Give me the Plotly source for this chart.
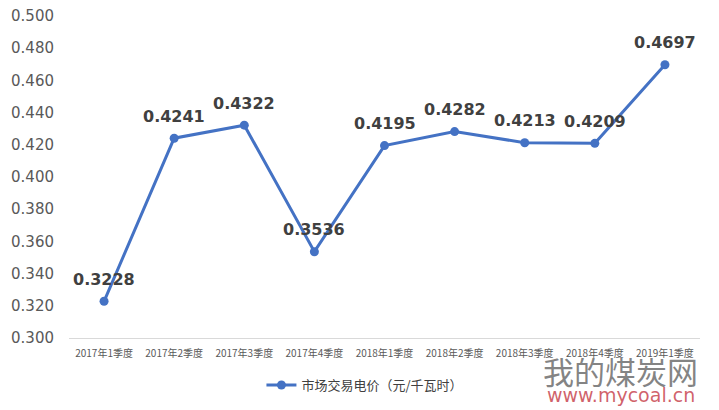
import plotly.graph_objects as go

categories = ["2017年1季度", "2017年2季度", "2017年3季度", "2017年4季度",
              "2018年1季度", "2018年2季度", "2018年3季度", "2018年4季度", "2019年1季度"]
values = [0.3228, 0.4241, 0.4322, 0.3536, 0.4195, 0.4282, 0.4213, 0.4209, 0.4697]
series_name = "市场交易电价（元/千瓦时）"
y_ticks = [0.30, 0.32, 0.34, 0.36, 0.38, 0.40, 0.42, 0.44, 0.46, 0.48, 0.50]

color = "#4472C4"
fig = go.Figure()
fig.add_trace(go.Scatter(
    x=categories, y=values, mode="lines+markers", name=series_name,
    line=dict(color=color, width=3),
    marker=dict(color=color, size=9),
))

for c, v in zip(categories, values):
    fig.add_annotation(x=c, y=v, text=f"<b>{v:.4f}</b>", showarrow=False,
                       yshift=22, font=dict(size=16, color="#404040",
                                            family="DejaVu Sans"))

# watermark
fig.add_annotation(xref="paper", yref="paper", x=1.0, y=-0.10, xanchor="right",
                   yanchor="middle",
                   text="我的煤炭网", showarrow=False,
                   font=dict(size=31, color="rgba(110,110,110,0.85)",
                             family="Noto Sans CJK SC"))
fig.add_annotation(xref="paper", yref="paper", x=0.995, y=-0.177, xanchor="right",
                   yanchor="middle",
                   text="www.mycoal.cn", showarrow=False,
                   font=dict(size=19, color="rgba(200,70,80,0.85)",
                             family="DejaVu Sans"))

fig.update_layout(
    width=711, height=402,
    margin=dict(l=61, r=19, t=8, b=72, autoexpand=False),
    paper_bgcolor="white", plot_bgcolor="white",
    font=dict(family="Noto Sans CJK SC", color="#595959"),
    showlegend=True,
    legend=dict(orientation="h", x=0.469, xanchor="center", y=-0.146,
                yanchor="middle", font=dict(size=13, color="#404040")),
    xaxis=dict(type="category", range=[-0.5, 8.5], showgrid=False,
               showline=True, linecolor="#D9D9D9", linewidth=1,
               ticks="", tickfont=dict(size=10, color="#595959"),
               ticklabelstandoff=6, automargin=False),
    yaxis=dict(range=[0.3, 0.5], tickvals=y_ticks, tickformat=".3f",
               showgrid=False, zeroline=False, showline=False, ticks="",
               tickfont=dict(size=15, color="#595959", family="DejaVu Sans"),
               ticklabelstandoff=14, automargin=False,
               ticklabeloverflow="allow"),
)

fig.write_html("out.html")
